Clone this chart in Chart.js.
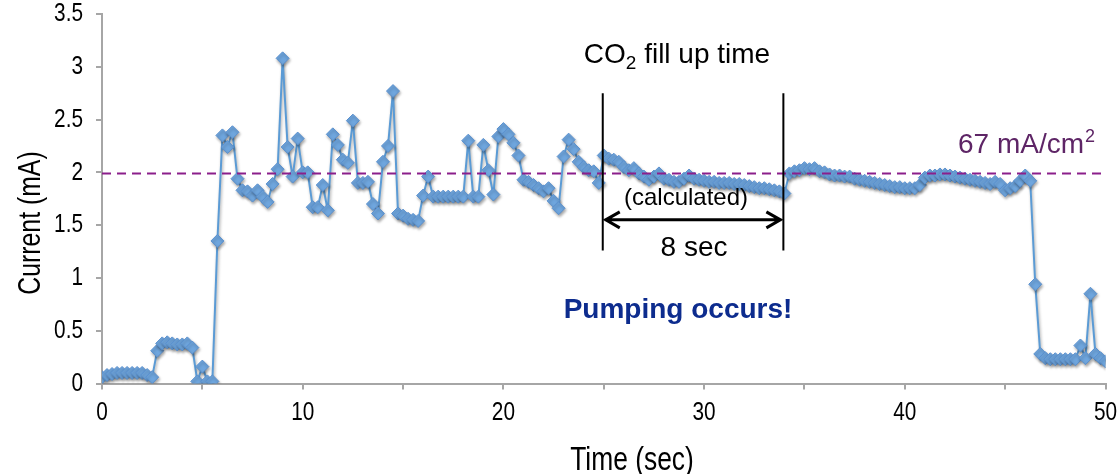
<!DOCTYPE html>
<html lang="en">
<head>
<meta charset="UTF-8">
<title>Current vs time</title>
<style>
  html, body { margin: 0; padding: 0; background: #fff; }
  #wrap { width: 1120px; height: 474px; }
</style>
</head>
<body>
<div id="wrap"><canvas id="currentChart" width="1120" height="474"></canvas></div>
<script src="https://cdn.jsdelivr.net/npm/chart.js@4.4.1/dist/chart.umd.min.js"></script>
<script>
// sample times (sec)
var times = [
  0, 0.25, 0.5, 0.75, 1, 1.25, 1.5, 1.75, 2, 2.25, 2.5, 2.75,
  3, 3.25, 3.5, 3.75, 4, 4.25, 4.5, 4.75, 5, 5.25, 5.5, 5.75,
  6, 6.25, 6.5, 6.75, 7, 7.25, 7.5, 7.75, 8, 8.25, 8.5, 8.75,
  9, 9.25, 9.5, 9.75, 10, 10.25, 10.5, 10.75, 11, 11.25, 11.5, 11.75,
  12, 12.25, 12.5, 12.75, 13, 13.25, 13.5, 13.75, 14, 14.25, 14.5, 14.75,
  15, 15.25, 15.5, 15.75, 16, 16.25, 16.5, 16.75, 17, 17.25, 17.5, 17.75,
  18, 18.25, 18.5, 18.75, 19, 19.25, 19.5, 19.75, 20, 20.25, 20.5, 20.75,
  21, 21.25, 21.5, 21.75, 22, 22.25, 22.5, 22.75, 23, 23.25, 23.5, 23.75,
  24, 24.25, 24.5, 24.75, 25, 25.25, 25.5, 25.75, 26, 26.25, 26.5, 26.75,
  27, 27.25, 27.5, 27.75, 28, 28.25, 28.5, 28.75, 29, 29.25, 29.5, 29.75,
  30, 30.25, 30.5, 30.75, 31, 31.25, 31.5, 31.75, 32, 32.25, 32.5, 32.75,
  33, 33.25, 33.5, 33.75, 34, 34.25, 34.5, 34.75, 35, 35.25, 35.5, 35.75,
  36, 36.25, 36.5, 36.75, 37, 37.25, 37.5, 37.75, 38, 38.25, 38.5, 38.75,
  39, 39.25, 39.5, 39.75, 40, 40.25, 40.5, 40.75, 41, 41.25, 41.5, 41.75,
  42, 42.25, 42.5, 42.75, 43, 43.25, 43.5, 43.75, 44, 44.25, 44.5, 44.75,
  45, 45.25, 45.5, 45.75, 46, 46.25, 46.5, 46.75, 47, 47.25, 47.5, 47.75,
  48, 48.25, 48.5, 48.75, 49, 49.25, 49.5, 49.75, 50
];

// measured current (mA)
var current = [
  0.06, 0.08, 0.09, 0.10, 0.10, 0.10, 0.10, 0.10, 0.10, 0.08, 0.06, 0.31,
  0.38, 0.39, 0.38, 0.37, 0.37, 0.38, 0.34, 0.02, 0.16, 0.02, 0.02, 1.35,
  2.35, 2.24, 2.38, 1.94, 1.83, 1.82, 1.78, 1.83, 1.77, 1.72, 1.89, 2.03,
  3.08, 2.24, 1.96, 2.32, 2.00, 2.00, 1.67, 1.67, 1.88, 1.64, 2.36, 2.26,
  2.12, 2.09, 2.49, 1.90, 1.90, 1.91, 1.70, 1.61, 2.10, 2.25, 2.77, 1.61,
  1.59, 1.56, 1.55, 1.54, 1.78, 1.96, 1.77, 1.77, 1.77, 1.77, 1.77, 1.77,
  1.77, 2.30, 1.77, 1.77, 2.26, 2.02, 1.79, 2.34, 2.41, 2.36, 2.28, 2.16,
  1.93, 1.91, 1.88, 1.85, 1.82, 1.85, 1.73, 1.66, 2.15, 2.31, 2.22, 2.10,
  2.05, 2.02, 2.01, 1.90, 2.16, 2.13, 2.12, 2.10, 2.05, 2.02, 2.04, 1.99,
  1.96, 1.93, 1.96, 1.99, 1.94, 1.93, 1.91, 1.91, 1.94, 1.97, 1.94, 1.93,
  1.92, 1.91, 1.91, 1.90, 1.90, 1.90, 1.89, 1.89, 1.88, 1.87, 1.86, 1.85,
  1.85, 1.84, 1.83, 1.82, 1.80, 1.99, 2.01, 2.02, 2.04, 2.03, 2.04, 2.01,
  2.00, 1.98, 1.97, 1.97, 1.96, 1.96, 1.94, 1.93, 1.92, 1.91, 1.90, 1.89,
  1.88, 1.87, 1.86, 1.86, 1.85, 1.85, 1.85, 1.88, 1.95, 1.97, 1.97, 1.98,
  1.98, 1.97, 1.96, 1.95, 1.94, 1.93, 1.92, 1.91, 1.90, 1.89, 1.91, 1.89,
  1.83, 1.85, 1.87, 1.92, 1.97, 1.92, 0.94, 0.28, 0.24, 0.23, 0.23, 0.23,
  0.23, 0.23, 0.23, 0.36, 0.24, 0.85, 0.28, 0.24, 0.21
];

var targetLevel = 1.99;           // 67 mA/cm2 line
var fillStart = 24.95;            // CO2 fill up window (sec)
var fillEnd = 33.95;
var xTickStep = 5, xLabelStep = 10;
var yTickStep = 0.5;

var textFont = "'Liberation Sans', Arial, sans-serif";
var axisGray = '#A6A6A6';
var narrow = 0.8;                 // horizontal squeeze for axis text

var points = times.map(function (t, i) { return { x: t, y: current[i] }; });

// shadow under the data markers
var markerShadow = {
  id: 'markerShadow',
  beforeDatasetDraw: function (chart, args) {
    if (args.index !== 0) return;
    var c = chart.ctx;
    c.save();
    c.shadowColor = 'rgba(0,0,0,0.35)';
    c.shadowBlur = 3;
    c.shadowOffsetX = 1;
    c.shadowOffsetY = 2;
  },
  afterDatasetDraw: function (chart, args) {
    if (args.index !== 0) return;
    chart.ctx.restore();
  }
};

function narrowText(c, txt, x, y, align) {
  c.save();
  c.translate(x, y);
  c.scale(narrow, 1);
  c.textAlign = align;
  c.fillText(txt, 0, 0);
  c.restore();
}

// tick labels, axis titles and the fill-up annotation
var notes = {
  id: 'notes',
  afterDraw: function (chart) {
    var c = chart.ctx, xs = chart.scales.x, ys = chart.scales.y;
    c.save();

    // tick labels in a condensed face
    c.fillStyle = '#000';
    c.textBaseline = 'middle';
    c.font = '26px ' + textFont;
    ys.ticks.forEach(function (t) {
      narrowText(c, String(t.value), 83, ys.getPixelForValue(t.value), 'right');
    });
    xs.ticks.forEach(function (t) {
      if (t.value % xLabelStep !== 0) return;
      narrowText(c, String(t.value), xs.getPixelForValue(t.value), 413, 'center');
    });

    // axis titles
    c.textBaseline = 'alphabetic';
    c.font = '33px ' + textFont;
    narrowText(c, 'Time (sec)', 632, 470, 'center');
    c.save();
    c.translate(40, 223);
    c.rotate(-Math.PI / 2);
    c.font = '31px ' + textFont;
    narrowText(c, 'Current (mA)', 0, 0, 'center');
    c.restore();

    // fill-up window
    var x1 = xs.getPixelForValue(fillStart), x2 = xs.getPixelForValue(fillEnd);
    var top = ys.getPixelForValue(2.75), bot = ys.getPixelForValue(1.26);
    var ay = ys.getPixelForValue(1.55);
    c.strokeStyle = '#000';
    c.lineWidth = 2;
    c.beginPath();
    c.moveTo(x1, top); c.lineTo(x1, bot);
    c.moveTo(x2, top); c.lineTo(x2, bot);
    c.stroke();

    c.lineWidth = 3;
    c.beginPath();
    c.moveTo(x1 + 2, ay); c.lineTo(x2 - 2, ay);
    c.moveTo(x1 + 17, ay - 8); c.lineTo(x1 + 3, ay); c.lineTo(x1 + 17, ay + 8);
    c.moveTo(x2 - 17, ay - 8); c.lineTo(x2 - 3, ay); c.lineTo(x2 - 17, ay + 8);
    c.stroke();

    // CO2 fill up time
    c.textAlign = 'left';
    c.font = '28px ' + textFont;
    var wCO = c.measureText('CO').width;
    var wRest = c.measureText(' fill up time').width;
    c.font = '19px ' + textFont;
    var wSub = c.measureText('2').width;
    var sx = 677 - (wCO + wSub + wRest) / 2;
    c.font = '28px ' + textFont;
    c.fillText('CO', sx, 63);
    c.font = '19px ' + textFont;
    c.fillText('2', sx + wCO, 69);
    c.font = '28px ' + textFont;
    c.fillText(' fill up time', sx + wCO + wSub, 63);

    c.textAlign = 'center';
    c.font = '24px ' + textFont;
    c.fillText('(calculated)', 686, 205);
    c.font = '28px ' + textFont;
    c.fillText('8 sec', 694, 256);

    c.fillStyle = '#0D2C8E';
    c.font = 'bold 28px ' + textFont;
    c.fillText('Pumping occurs!', 678, 318);

    // 67 mA/cm2 label
    c.fillStyle = '#5E2566';
    c.textAlign = 'left';
    c.font = '28px ' + textFont;
    c.fillText('67 mA/cm', 958, 153);
    var wm = c.measureText('67 mA/cm').width;
    c.font = '18px ' + textFont;
    c.fillText('2', 958 + wm + 1, 142);

    c.restore();
  }
};

var chart = new Chart(document.getElementById('currentChart'), {
  type: 'scatter',
  data: {
    datasets: [
      {
        label: 'Current',
        data: points,
        showLine: true,
        borderColor: '#5B9BD5',
        borderWidth: 2,
        pointStyle: 'rectRot',
        pointRadius: 6.5,
        pointBackgroundColor: '#6FA6DE',
        pointBorderColor: '#5A90CE',
        pointBorderWidth: 1,
        order: 1
      },
      {
        label: '67 mA/cm2',
        data: [{ x: 0, y: targetLevel }, { x: 50, y: targetLevel }],
        showLine: true,
        borderColor: '#8B1F8B',
        borderWidth: 2,
        borderDash: [9, 6],
        pointRadius: 0,
        order: 0
      }
    ]
  },
  options: {
    responsive: false,
    animation: false,
    layout: { padding: { top: 14, right: 14.5, left: 0, bottom: 0 } },
    plugins: { legend: { display: false }, tooltip: { enabled: false } },
    scales: {
      x: {
        type: 'linear',
        min: 0,
        max: 50,
        afterFit: function (s) { s.height = 90.5; },
        grid: { drawOnChartArea: false, drawTicks: true, tickLength: 6, color: axisGray, lineWidth: 2 },
        border: { color: axisGray, width: 2 },
        ticks: { stepSize: xTickStep, display: false }
      },
      y: {
        min: 0,
        max: 3.5,
        afterFit: function (s) { s.width = 102; },
        grid: { drawOnChartArea: false, drawTicks: true, tickLength: 6, color: axisGray, lineWidth: 2 },
        border: { color: axisGray, width: 2 },
        ticks: { stepSize: yTickStep, display: false }
      }
    }
  },
  plugins: [markerShadow, notes]
});
</script>
</body>
</html>
